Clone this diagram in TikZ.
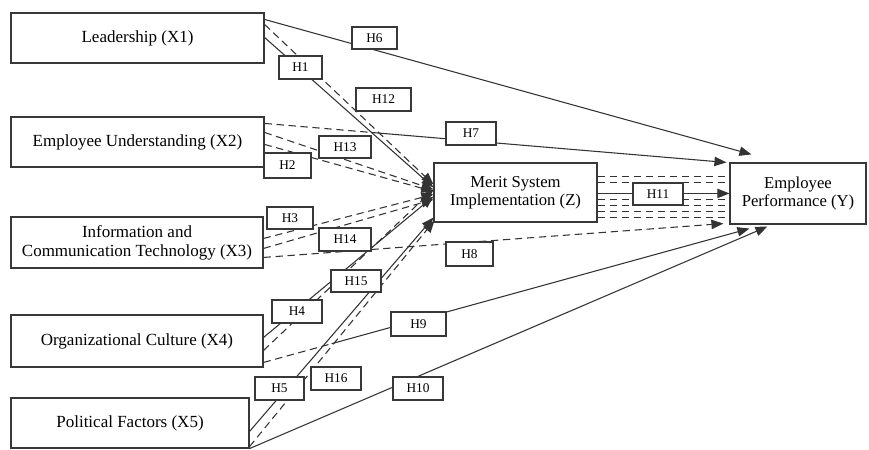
\documentclass[tikz,border=0pt]{standalone}
\usepackage{fontspec}
\setmainfont{Liberation Serif}
\usetikzlibrary{arrows.meta,calc}
\begin{document}
\begin{tikzpicture}[x=0.75pt,y=-0.75pt,
  box/.style={draw=black!78, line width=0.85pt, rectangle, inner sep=0pt, align=center, font=\fontsize{12.75}{14.25}\selectfont},
  lab/.style={draw=black!78, line width=0.85pt, fill=white, inner sep=0pt, font=\fontsize{10}{11}\selectfont},
  conn/.style={draw=black!80, line width=0.8pt},
  dsh/.style={conn, dash pattern=on 5.5pt off 3.5pt},
  arr/.style={-{Triangle[length=9pt,width=7pt]}}
]
\useasboundingbox (0,0) rectangle (869,450);

% main boxes
\node[box, minimum width=189.75pt, minimum height=37.5pt] (X1) at (137.5,38) {Leadership (X1)};
\node[box, minimum width=189.75pt, minimum height=37.5pt] (X2) at (137.5,142) {Employee Understanding (X2)};
\node[box, minimum width=189pt, minimum height=38.25pt] (X3) at (137,242.5) {Information and\\Communication Technology (X3)};
\node[box, minimum width=189pt, minimum height=39pt] (X4) at (137,341) {Organizational Culture (X4)};
\node[box, minimum width=178.5pt, minimum height=37.5pt] (X5) at (130,423) {Political Factors (X5)};
\node[box, minimum width=122.25pt, minimum height=44.25pt, font=\fontsize{12.5}{13.5}\selectfont] (Z) at (515.5,192.5) {Merit System\\Implementation (Z)};
\node[box, minimum width=102pt, minimum height=45.75pt, font=\fontsize{12.5}{13.5}\selectfont] (Y) at (798,193.5) {Employee\\Performance (Y)};

% named end points
\coordinate (y6) at ($(Y.north west)+(22,-8)$);
\coordinate (y7) at ($(Y.north west)+(-3,0)$);
\coordinate (y8) at ($(Y.south west)+(-6,-1)$);
\coordinate (y9) at ($(Y.south west)+(20,4)$);
\coordinate (y10) at ($(Y.south west)+(38,2)$);
\coordinate (x2a) at ($(X2.north east)+(0,7)$);
\coordinate (x4c) at ($(X4.north east)+(0,48)$);

% X1
\draw[conn,arr] ($(X1.north east)+(0,7)$) -- (y6);
\draw[dsh,arr] ($(X1.north east)+(0,12)$) -- ($(Z.north west)+(0,22)$);
\draw[conn,arr] ($(X1.north east)+(0,25)$) -- ($(Z.north west)+(0,25)$);
% X2
\draw[dsh] (x2a) -- ($(x2a)!0.23!(y7)$) coordinate (m7);
\draw[conn,arr] (m7) -- (y7);
\draw[dsh,arr] ($(X2.north east)+(0,16)$) -- ($(Z.north west)+(0,27)$);
\draw[dsh,arr] ($(X2.north east)+(0,28)$) -- ($(Z.north west)+(0,29)$);
% X3
\draw[dsh,arr] ($(X3.north east)+(0,22)$) -- ($(Z.north west)+(0,32)$);
\draw[dsh,arr] ($(X3.north east)+(0,32)$) -- ($(Z.north west)+(0,37)$);
\draw[dsh,arr] ($(X3.north east)+(0,41)$) -- (y8);
% X4
\draw[conn,arr] ($(X4.north east)+(0,23)$) -- ($(Z.north west)+(0,34)$);
\draw[dsh,arr] ($(X4.north east)+(0,36)$) -- ($(Z.north west)+(0,27)$);
\draw[dsh] (x4c) -- ($(x4c)!0.14!(y9)$) coordinate (m9);
\draw[conn,arr] (m9) -- (y9);
% X5
\draw[conn,arr] ($(X5.north east)+(0,34)$) -- ($(Z.south west)+(0,-5)$);
\draw[dsh,arr] ($(X5.south east)+(0,-2)$) -- ($(Z.south west)+(1,-2)$);
\draw[conn,arr] (X5.south east) -- (y10);
% Z to Y
\foreach \o in {14,20,37,43,49,55}
  \draw[dsh] ($(Z.north east)+(0,\o)$) -- ($(Y.north west)+(0,\o)$);
\draw[conn,arr] ($(Z.north east)+(0,31)$) -- ($(Y.north west)+(0,31)$);

% hypothesis labels
\node[lab, minimum width=33.75pt, minimum height=16.5pt] (H6) at (374.5,38) {H6};
\node[lab, minimum width=32.25pt, minimum height=17.25pt] (H1) at (300.5,67.5) {H1};
\node[lab, minimum width=41.25pt, minimum height=17.25pt] (H12) at (383.5,99.5) {H12};
\node[lab, minimum width=37.5pt, minimum height=17.25pt] (H7) at (471,133.5) {H7};
\node[lab, minimum width=39pt, minimum height=16.5pt] (H13) at (345,147) {H13};
\node[lab, minimum width=35.25pt, minimum height=18.75pt] (H2) at (287.5,165.5) {H2};
\node[lab, minimum width=34.5pt, minimum height=16.5pt] (H3) at (290,218) {H3};
\node[lab, minimum width=39pt, minimum height=17.25pt] (H14) at (345,239.5) {H14};
\node[lab, minimum width=35.25pt, minimum height=18pt] (H8) at (469.5,254) {H8};
\node[lab, minimum width=37.5pt, minimum height=16.5pt] (H15) at (356,281) {H15};
\node[lab, minimum width=37.5pt, minimum height=17.25pt] (H4) at (297,311.5) {H4};
\node[lab, minimum width=41.25pt, minimum height=18pt] (H9) at (418.5,324) {H9};
\node[lab, minimum width=36.75pt, minimum height=17.25pt] (H5) at (279.5,388.5) {H5};
\node[lab, minimum width=37.5pt, minimum height=17.25pt] (H16) at (336,378.5) {H16};
\node[lab, minimum width=37.5pt, minimum height=17.25pt] (H10) at (418,388.5) {H10};
\node[lab, minimum width=37.5pt, minimum height=16.5pt] (H11) at (658,194) {H11};
\end{tikzpicture}
\end{document}
